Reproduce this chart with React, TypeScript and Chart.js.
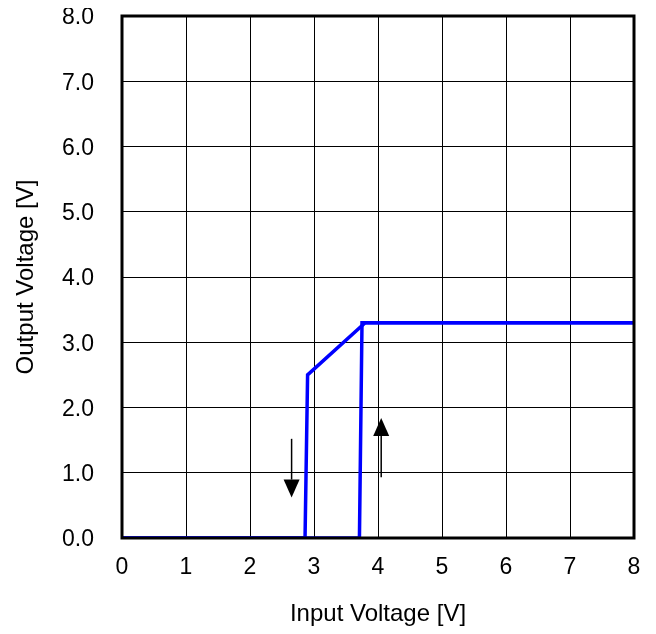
import React, { useEffect, useRef } from "react";
import { Chart, registerables } from "chart.js";

Chart.register(...registerables);

// Falling sweep (input decreasing)
const downX = [8, 3.8, 2.9, 2.86, 0];
const downY = [3.3, 3.3, 2.5, 0, 0];
// Rising sweep (input increasing)
const upX = [0, 3.71, 3.75, 8];
const upY = [0, 0, 3.3, 3.3];

// Arrows: [x, fromY, toY]
const arrowDown = [2.65, 1.52, 0.62];
const arrowUp = [4.05, 0.93, 1.84];

const xTicks = [0, 1, 2, 3, 4, 5, 6, 7, 8];
const yTicks = [0, 1, 2, 3, 4, 5, 6, 7, 8];

const FONT = "'Liberation Sans', Arial, sans-serif";

const framePlugin = {
  id: "frame",
  afterDatasetsDraw(chart: any) {
    const { ctx, chartArea } = chart;
    ctx.save();
    ctx.strokeStyle = "#000";
    ctx.lineWidth = 3;
    ctx.strokeRect(chartArea.left, chartArea.top, chartArea.right - chartArea.left, chartArea.bottom - chartArea.top);
    ctx.restore();
  },
};

const arrowPlugin = {
  id: "arrows",
  afterDraw(chart: any) {
    const { ctx } = chart;
    const xs = chart.scales.x;
    const ys = chart.scales.y;
    const draw = (a: number[]) => {
      const x = xs.getPixelForValue(a[0]);
      const y0 = ys.getPixelForValue(a[1]);
      const y1 = ys.getPixelForValue(a[2]);
      const dir = y1 > y0 ? 1 : -1;
      const headLen = 18;
      const headW = 8;
      ctx.save();
      ctx.strokeStyle = "#000";
      ctx.fillStyle = "#000";
      ctx.lineWidth = 1.5;
      ctx.beginPath();
      ctx.moveTo(x, y0);
      ctx.lineTo(x, y1 - dir * headLen);
      ctx.stroke();
      ctx.beginPath();
      ctx.moveTo(x, y1);
      ctx.lineTo(x - headW, y1 - dir * headLen);
      ctx.lineTo(x + headW, y1 - dir * headLen);
      ctx.closePath();
      ctx.fill();
      ctx.restore();
    };
    draw(arrowDown);
    draw(arrowUp);
  },
};

export default function App() {
  const ref = useRef<HTMLCanvasElement | null>(null);
  useEffect(() => {
    if (!ref.current) return;
    const mk = (xs: number[], ys: number[]) => xs.map((x, i) => ({ x, y: ys[i] }));
    const chart = new Chart(ref.current, {
      type: "scatter",
      data: {
        datasets: [
          {
            data: mk(downX, downY),
            showLine: true,
            borderColor: "#0000ff",
            borderWidth: 3.5,
            pointRadius: 0,
            fill: false,
            tension: 0,
          },
          {
            data: mk(upX, upY),
            showLine: true,
            borderColor: "#0000ff",
            borderWidth: 3.5,
            pointRadius: 0,
            fill: false,
            tension: 0,
          },
        ],
      },
      options: {
        animation: false,
        responsive: false,
        maintainAspectRatio: false,
        layout: { padding: { top: 8, right: 14, left: 0, bottom: 0 } },
        plugins: { legend: { display: false }, tooltip: { enabled: false } },
        scales: {
          x: {
            type: "linear",
            min: 0,
            max: 8,
            afterBuildTicks: (s: any) => {
              s.ticks = xTicks.map((v) => ({ value: v }));
            },
            afterFit: (s: any) => {
              s.height = 96;
              s.paddingLeft = 0;
              s.paddingRight = 0;
            },
            grid: { color: "#000", lineWidth: 1, drawTicks: false },
            border: { display: false },
            ticks: { color: "#000", font: { family: FONT, size: 23 }, padding: 16, maxRotation: 0 },
            title: {
              display: true,
              text: "Input Voltage [V]",
              color: "#000",
              font: { family: FONT, size: 24 },
              padding: { top: 0, bottom: 5 },
            },
          },
          y: {
            type: "linear",
            min: 0,
            max: 8,
            afterBuildTicks: (s: any) => {
              s.ticks = yTicks.map((v) => ({ value: v }));
            },
            afterFit: (s: any) => {
              s.width = 114;
              s.paddingTop = 0;
              s.paddingBottom = 0;
            },
            grid: { color: "#000", lineWidth: 1, drawTicks: false },
            border: { display: false },
            ticks: {
              color: "#000",
              font: { family: FONT, size: 23 },
              padding: 28,
              labelOffset: 2,
              callback: (v: any) => Number(v).toFixed(1),
            },
            title: {
              display: true,
              text: "Output Voltage [V]",
              color: "#000",
              font: { family: FONT, size: 24 },
              padding: { top: 4, bottom: 0 },
            },
          },
        },
      },
      plugins: [framePlugin, arrowPlugin],
    });
    return () => chart.destroy();
  }, []);
  return (
    <div style={{ width: 640, height: 626 }}>
      <canvas ref={ref} width={640} height={626} style={{ width: 640, height: 626, display: "block" }} />
    </div>
  );
}
